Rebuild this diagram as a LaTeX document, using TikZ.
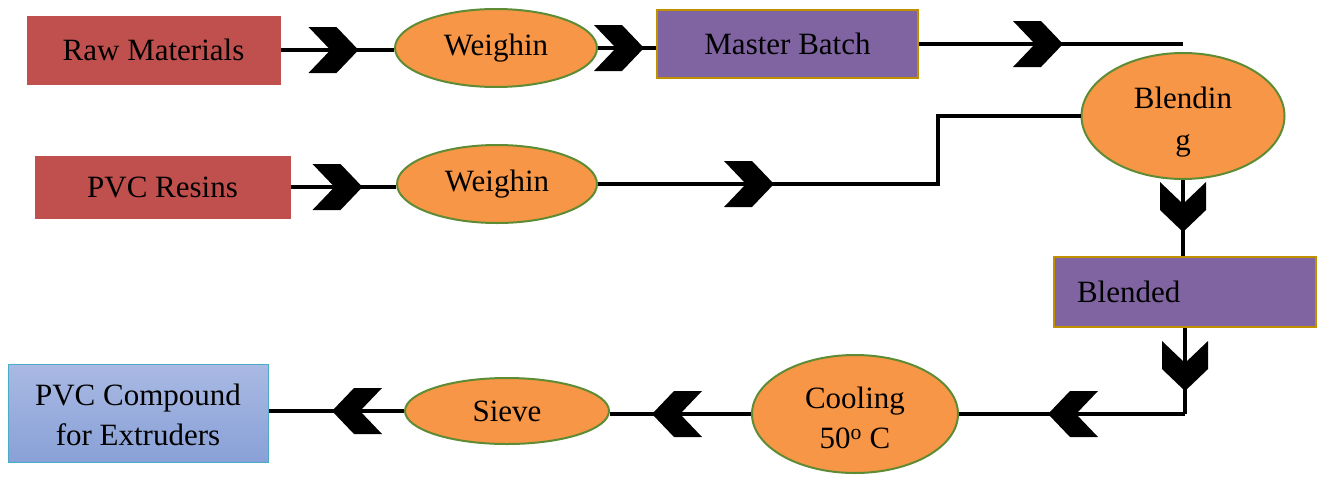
\documentclass[tikz,border=0pt]{standalone}
\usepackage{fontspec}
\setmainfont{Liberation Serif}
\newfontfamily\flowfont{Liberation Serif}
\usetikzlibrary{shapes.geometric,decorations.markings}
\definecolor{rawred}{HTML}{C0504D}
\definecolor{batchpurple}{HTML}{8064A2}
\definecolor{batchgold}{HTML}{BF9000}
\definecolor{stepfill}{HTML}{F79646}
\definecolor{stepedge}{HTML}{5E8C34}
\definecolor{outtop}{HTML}{A9B9E3}
\definecolor{outbot}{HTML}{89A1D7}
\definecolor{outedge}{HTML}{4BACC6}
\tikzset{
  txt/.style={font=\flowfont\fontsize{31}{40}\selectfont, align=center, inner sep=0pt},
  inbox/.style={txt, rectangle, fill=rawred, draw=rawred, line width=1pt},
  batchbox/.style={txt, rectangle, fill=batchpurple, draw=batchgold, line width=2pt},
  stepoval/.style={txt, ellipse, fill=stepfill, draw=stepedge, line width=2pt},
  outbox/.style={txt, rectangle, top color=outtop, bottom color=outbot, draw=outedge, line width=1pt},
  flow/.style={line width=4pt, black},
  chev/.style={postaction={decorate}, decoration={markings,
    mark=at position #1 with {\fill[black] (0pt,0pt) -- (-22pt,23pt) -- (-50pt,23pt)
      -- (-28pt,0pt) -- (-50pt,-23pt) -- (-22pt,-23pt) -- cycle;}}},
}
\begin{document}
\begin{tikzpicture}[x=1pt, y=-1pt]
\useasboundingbox (0,0) rectangle (1319,477);

% process boxes and steps
\node[inbox, minimum width=253pt, minimum height=68pt] (raw) at (153.5,50) {Raw Materials};
\node[stepoval, minimum width=202pt, minimum height=78pt] (weigh1) at (496,48) {Weighin};
\node[batchbox, minimum width=261pt, minimum height=68pt] (master) at (787.5,44) {Master Batch};

\node[inbox, minimum width=255pt, minimum height=62pt] (resin) at (162.5,187) {PVC Resins};
\node[stepoval, minimum width=200pt, minimum height=78pt] (weigh2) at (497,184) {Weighin};

\node[stepoval, minimum width=203pt, minimum height=126pt] (blend) at (1183,116) {\rule{0pt}{34pt}Blendin\\[2pt]g};
\node[batchbox, minimum width=262pt, minimum height=70pt, text width=216pt, inner xsep=23pt, align=left] (blended) at (1185,292) {Blended};

\node[stepoval, minimum width=206pt, minimum height=118pt] (cool) at (855,414) {\rule{0pt}{29pt}Cooling\\50\textsuperscript{o} C};
\node[stepoval, minimum width=204pt, minimum height=66pt] (sieve) at (507,411) {Sieve};
\node[outbox, minimum width=260pt, minimum height=98pt] (comp) at (138,413) {\rule{0pt}{25pt}PVC Compound\\for Extruders};

% free end and bends of the connectors
\coordinate (mbend) at (1183,38);
\coordinate (rbend) at (938,182);
\coordinate (dbend) at (1185,414);

% connectors with chevron markers
\draw[flow, chev=78pt] (raw.east) -- (raw.east -| weigh1.west);
\draw[flow, chev=46pt] (weigh1.east) -- (weigh1.east -| master.west);
\draw[flow, chev=144pt] (master.east) -- (master.east -| mbend);
\draw[flow, chev=72pt] (resin.east) -- (resin.east -| weigh2.west);
\draw[flow, chev=176pt] (weigh2.east) -- (weigh2.east -| rbend) -- (rbend |- blend.west) -- (blend.west);
\draw[flow, chev=52pt] (blend.south) -- (blend.south |- blended.north);
\draw[flow, chev=63pt] (blended.south) -- (dbend);
\draw[flow, chev=137pt] (dbend) -- (cool.east);
\draw[flow, chev=99pt] (cool.west) -- (cool.west -| sieve.east);
\draw[flow, chev=72pt] (sieve.west) -- (sieve.west -| comp.east);
\end{tikzpicture}
\end{document}
